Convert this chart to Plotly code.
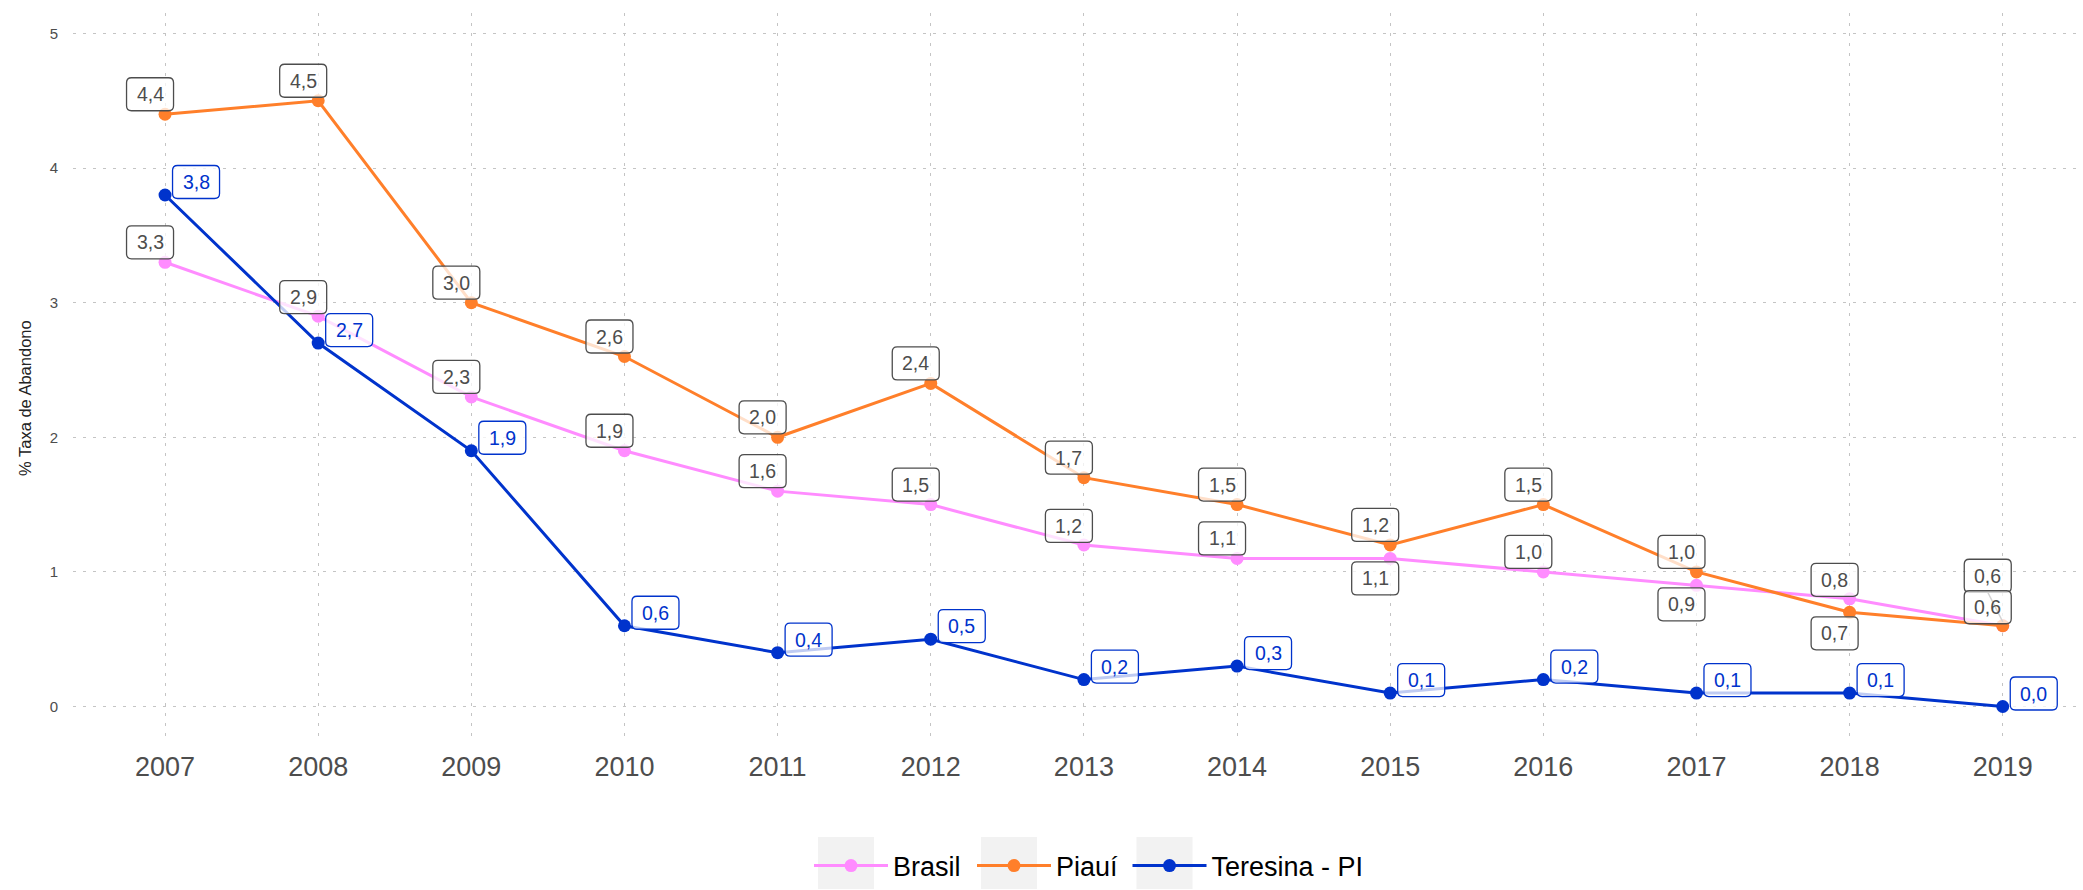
import plotly.graph_objects as go

# ---- data -------------------------------------------------------------
anos = [2007, 2008, 2009, 2010, 2011, 2012, 2013, 2014, 2015, 2016, 2017, 2018, 2019]
brasil = [3.3, 2.9, 2.3, 1.9, 1.6, 1.5, 1.2, 1.1, 1.1, 1.0, 0.9, 0.8, 0.6]
piaui = [4.4, 4.5, 3.0, 2.6, 2.0, 2.4, 1.7, 1.5, 1.2, 1.5, 1.0, 0.7, 0.6]
teresina = [3.8, 2.7, 1.9, 0.6, 0.4, 0.5, 0.2, 0.3, 0.1, 0.2, 0.1, 0.1, 0.0]
y_ticks = [0, 1, 2, 3, 4, 5]

# ---- label placement (pixel offsets of the label centre from its point) --
brasil_dx = [-15] * 13
brasil_dy = [-20, -19, -20, -20, -20, -20, -19, -20, 20, -20, 19, -19, -50]
piaui_dx = [-15] * 13
piaui_dy = [-20, -20, -20, -20, -20, -20, -20, -20, -20, -20, -20, 21, -18.5]
teresina_dx = [31] * 13
teresina_dy = [-13] * 13

# ---- styles -----------------------------------------------------------
FONT = "Liberation Sans"
COL_BR = "#ff8cff"
COL_PI = "#ff7f2a"
COL_TE = "#0033cc"
COL_LAB = "#4d4d4d"
BOX_W, BOX_H, BOX_R = 47, 33, 5

# plot-area geometry in pixels (used to place the legend key backgrounds)
W, H = 2083, 890
M_L, M_R, M_T, M_B = 73, 0, 13, 152
PLOT_W, PLOT_H = W - M_L - M_R, H - M_T - M_B
ITEM_W = 74
legend_x_px = [809, 972, 1127.5]

series = [
    ("Brasil", brasil, COL_BR, COL_LAB, brasil_dx, brasil_dy, "legend"),
    ("Piauí", piaui, COL_PI, COL_LAB, piaui_dx, piaui_dy, "legend2"),
    ("Teresina - PI", teresina, COL_TE, COL_TE, teresina_dx, teresina_dy, "legend3"),
]


def fmt(v):
    return f"{v:.1f}".replace(".", ",")


def rounded_box(cx, cy, w, h, r):
    x0, x1 = cx - w / 2, cx + w / 2
    y0, y1 = cy - h / 2, cy + h / 2
    return (
        f"M{x0 + r},{y0} L{x1 - r},{y0} Q{x1},{y0} {x1},{y0 + r} "
        f"L{x1},{y1 - r} Q{x1},{y1} {x1 - r},{y1} L{x0 + r},{y1} "
        f"Q{x0},{y1} {x0},{y1 - r} L{x0},{y0 + r} Q{x0},{y0} {x0 + r},{y0} Z"
    )


fig = go.Figure()
shapes = []
annotations = []

for name, vals, col, lab_col, dxs, dys, leg in series:
    fig.add_trace(go.Scatter(
        x=anos, y=vals, name=name, mode="lines+markers",
        line=dict(color=col, width=3),
        marker=dict(color=col, size=13),
        legend=leg,
    ))

for name, vals, col, lab_col, dxs, dys, leg in series:
    for x, v, dx, dy in zip(anos, vals, dxs, dys):
        cy = -dy  # pixel-sized shapes measure y upwards
        if abs(dy) > 30:
            shapes.append(dict(
                type="line", xref="x", yref="y",
                xsizemode="pixel", ysizemode="pixel",
                xanchor=x, yanchor=v,
                x0=dx, y0=cy - BOX_H / 2, x1=0, y1=4,
                line=dict(color=lab_col, width=1.5),
                layer="above",
            ))
        shapes.append(dict(
            type="path", xref="x", yref="y",
            xsizemode="pixel", ysizemode="pixel",
            xanchor=x, yanchor=v,
            path=rounded_box(dx, cy, BOX_W, BOX_H, BOX_R),
            fillcolor="rgba(255,255,255,0.75)",
            line=dict(color=lab_col, width=1.3),
            layer="above",
        ))
        annotations.append(dict(
            x=x, y=v, xref="x", yref="y", text=fmt(v),
            showarrow=False, xshift=dx, yshift=cy,
            font=dict(family=FONT, size=19.5, color=lab_col),
        ))

# y-axis title
annotations.append(dict(
    text="% Taxa de Abandono", xref="paper", yref="paper",
    x=(25 - M_L) / PLOT_W, y=(H - M_B - 398) / PLOT_H,
    xanchor="center", yanchor="middle", textangle=-90, showarrow=False,
    font=dict(family=FONT, size=16.5, color="#222222"),
))

# grey key backgrounds behind the legend symbols
for lx in legend_x_px:
    cx_px = lx + ITEM_W / 2
    shapes.append(dict(
        type="rect", xref="paper", yref="paper",
        x0=(cx_px - 28 - M_L) / PLOT_W, x1=(cx_px + 28 - M_L) / PLOT_W,
        y0=(H - M_B - 889) / PLOT_H, y1=(H - M_B - 837) / PLOT_H,
        fillcolor="#f2f2f2", line=dict(width=0), layer="below",
    ))


def legend_box(lx):
    return dict(
        orientation="h", xref="container", yref="container",
        x=lx / W, xanchor="left", y=(H - 866) / H, yanchor="middle",
        font=dict(family=FONT, size=27, color="black"),
        itemwidth=ITEM_W, bgcolor="rgba(0,0,0,0)",
        itemclick=False, itemdoubleclick=False,
    )


grid = dict(gridcolor="#c4c4c4", gridwidth=1, griddash="3px,7px",
            zeroline=False, showline=False, ticks="")

fig.update_layout(
    width=W, height=H,
    margin=dict(l=M_L, r=M_R, t=M_T, b=M_B),
    plot_bgcolor="white", paper_bgcolor="white",
    font=dict(family=FONT),
    showlegend=True,
    legend=legend_box(legend_x_px[0]),
    legend2=legend_box(legend_x_px[1]),
    legend3=legend_box(legend_x_px[2]),
    xaxis=dict(
        range=[2006.399, 2019.524], tickvals=anos,
        ticktext=[str(a) for a in anos],
        tickfont=dict(family=FONT, size=27, color=COL_LAB),
        ticklabelstandoff=10, **grid,
    ),
    yaxis=dict(
        range=[-0.234, 5.152], tickvals=y_ticks,
        ticktext=[str(t) for t in y_ticks],
        tickfont=dict(family=FONT, size=15, color=COL_LAB),
        ticklabelstandoff=14, **grid,
    ),
    shapes=shapes,
    annotations=annotations,
)

fig.write_html("out.html")
